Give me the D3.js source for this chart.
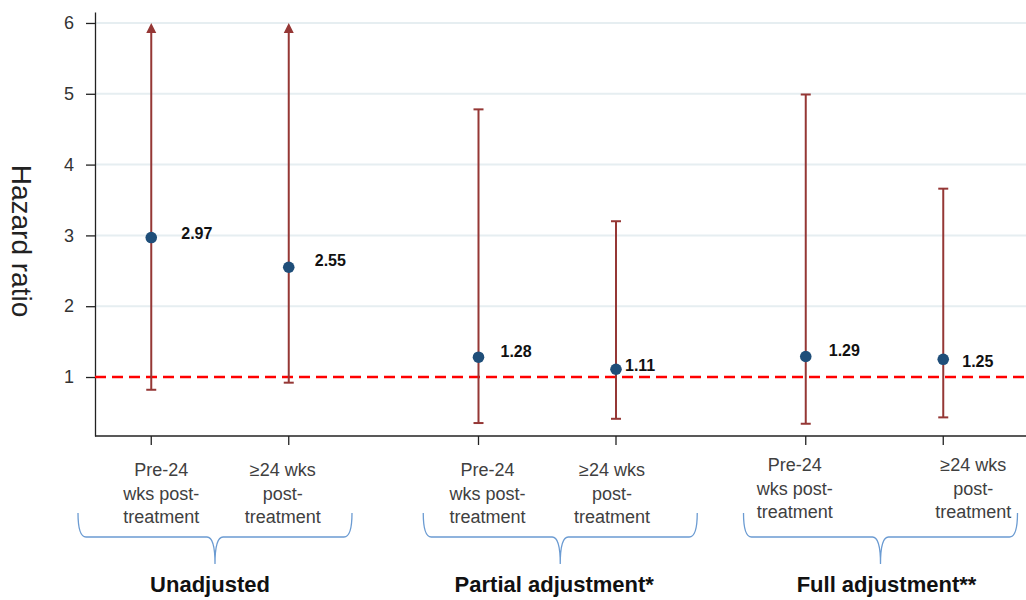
<!DOCTYPE html>
<html>
<head>
<meta charset="utf-8">
<script src="https://d3js.org/d3.v7.min.js"></script>
<style>
  body { margin: 0; background: #fff; }
  svg { font-family: "Liberation Sans", Arial, sans-serif; }
</style>
</head>
<body>
<script>
// data
var groups = ["Unadjusted", "Partial adjustment*", "Full adjustment**"];
var periods = ["pre", "post"];
var periodLabels = [["Pre-24", "wks post-", "treatment"], ["\u226524 wks", "post-", "treatment"]];
var hazardRatio = [2.97, 2.55, 1.28, 1.11, 1.29, 1.25];
var ciLow = [0.82, 0.92, 0.35, 0.41, 0.34, 0.43];
var ciHigh = [6, 6, 4.78, 3.2, 4.99, 3.66];
var ciCut = [true, true, false, false, false, false]; // upper limit runs off the chart
var yTicks = [1, 2, 3, 4, 5, 6];
var refLine = 1;

// small layout nudges so the text sits where it does in the original
var valueDx = [30, 26, 22, 9, 23, 19];
var valueDy = [-4, -7, -6, -4, -6, 2];
var labelDx = [10, -6, 9, -4, -11, 30];
var labelDy = [0, 0, 0, 0, -5, -5];
var braceDx = [-5, 13, 6];
var titleDx = [-10, 7, 12];

var width = 1026, height = 600;
var plotLeft = 95, plotTop = 12, plotBottom = 436;

var svg = d3.select("body").append("svg")
	.attr("width", width)
	.attr("height", height);

var y = d3.scaleLinear().domain([0.167, 6.155]).range([plotBottom, plotTop]);
var gx = d3.scalePoint().domain(groups).range([220, 874.5]);
var px = d3.scalePoint().domain(periods).range([-68.75, 68.75]);

// one row per estimate
var rows = [];
groups.forEach(function(g, gi) {
	periods.forEach(function(p, pi) {
		var i = gi * 2 + pi;
		rows.push({ i: i, group: g, period: pi, x: gx(g) + px(p),
			hr: hazardRatio[i], lo: ciLow[i], hi: ciHigh[i], cut: ciCut[i] });
	});
});

// gridlines
svg.append("g").selectAll("line")
	.data(yTicks.filter(function(d) { return d !== refLine; }))
	.enter().append("line")
	.attr("x1", plotLeft).attr("x2", width)
	.attr("y1", function(d) { return y(d); })
	.attr("y2", function(d) { return y(d); })
	.attr("stroke", "#e6eef1")
	.attr("stroke-width", 2);

// y axis
var yAxis = svg.append("g")
	.attr("transform", "translate(" + plotLeft + ",0)")
	.call(d3.axisLeft(y).tickValues(yTicks).tickFormat(d3.format("d"))
		.tickSize(9).tickSizeOuter(0).tickPadding(12));
yAxis.select(".domain").attr("stroke", "#222").attr("stroke-width", 1.3);
yAxis.selectAll(".tick line").attr("stroke", "#222").attr("stroke-width", 1.3);
yAxis.selectAll(".tick text").attr("font-size", 18).attr("fill", "#333")
	.attr("font-family", "Liberation Sans, Arial, sans-serif");

svg.append("text")
	.attr("transform", "translate(12," + 241 + ") rotate(90)")
	.attr("text-anchor", "middle")
	.attr("font-size", 28)
	.attr("fill", "#222")
	.text("Hazard ratio");

// x axis line and ticks
svg.append("line")
	.attr("x1", plotLeft).attr("x2", width)
	.attr("y1", plotBottom).attr("y2", plotBottom)
	.attr("stroke", "#222").attr("stroke-width", 1.3);
svg.append("g").selectAll("line")
	.data(rows).enter().append("line")
	.attr("x1", function(d) { return d.x; })
	.attr("x2", function(d) { return d.x; })
	.attr("y1", plotBottom).attr("y2", plotBottom + 9)
	.attr("stroke", "#222").attr("stroke-width", 1.3);

// reference line at HR = 1
svg.append("line")
	.attr("x1", plotLeft).attr("x2", width)
	.attr("y1", y(refLine)).attr("y2", y(refLine))
	.attr("stroke", "#ff0000")
	.attr("stroke-width", 2.6)
	.attr("stroke-dasharray", "11,6");

// confidence intervals
var ci = svg.append("g").attr("stroke", "#953735").attr("fill", "#953735");
ci.selectAll(".whisker")
	.data(rows).enter().append("line")
	.attr("class", "whisker")
	.attr("x1", function(d) { return d.x; })
	.attr("x2", function(d) { return d.x; })
	.attr("y1", function(d) { return y(d.lo); })
	.attr("y2", function(d) { return d.cut ? y(d.hi) + 6 : y(d.hi); })
	.attr("stroke-width", 2);
ci.selectAll(".cap-lo")
	.data(rows).enter().append("line")
	.attr("class", "cap-lo")
	.attr("x1", function(d) { return d.x - 5; })
	.attr("x2", function(d) { return d.x + 5; })
	.attr("y1", function(d) { return y(d.lo); })
	.attr("y2", function(d) { return y(d.lo); })
	.attr("stroke-width", 2);
ci.selectAll(".cap-hi")
	.data(rows.filter(function(d) { return !d.cut; })).enter().append("line")
	.attr("class", "cap-hi")
	.attr("x1", function(d) { return d.x - 5; })
	.attr("x2", function(d) { return d.x + 5; })
	.attr("y1", function(d) { return y(d.hi); })
	.attr("y2", function(d) { return y(d.hi); })
	.attr("stroke-width", 2);
ci.selectAll(".arrow")
	.data(rows.filter(function(d) { return d.cut; })).enter().append("path")
	.attr("class", "arrow")
	.attr("stroke", "none")
	.attr("d", function(d) {
		var ty = y(d.hi);
		return "M" + d.x + "," + ty + "L" + (d.x + 5) + "," + (ty + 10) + "L" + (d.x - 5) + "," + (ty + 10) + "Z";
	});

// point estimates
svg.append("g").selectAll("circle")
	.data(rows).enter().append("circle")
	.attr("cx", function(d) { return d.x; })
	.attr("cy", function(d) { return y(d.hr); })
	.attr("r", 5.8)
	.attr("fill", "#1f4e79");

svg.append("g").selectAll("text")
	.data(rows).enter().append("text")
	.attr("x", function(d) { return d.x + valueDx[d.i]; })
	.attr("y", function(d) { return y(d.hr) + valueDy[d.i] + 5.7; })
	.attr("font-size", 16)
	.attr("font-weight", "bold")
	.attr("fill", "#111")
	.text(function(d) { return d.hr.toFixed(2); });

// category labels
var lab = svg.append("g").selectAll("text")
	.data(rows).enter().append("text")
	.attr("text-anchor", "middle")
	.attr("font-size", 18)
	.attr("fill", "#404040")
	.attr("transform", function(d) {
		return "translate(" + (d.x + labelDx[d.i]) + "," + (476 + labelDy[d.i]) + ")";
	});
lab.selectAll("tspan")
	.data(function(d) { return periodLabels[d.period]; })
	.enter().append("tspan")
	.attr("x", 0)
	.attr("dy", function(d, i) { return i === 0 ? 0 : 23.5; })
	.text(function(d) { return d; });

// braces under each group
var braceHalf = 137, braceTop = 513, braceMid = 537, braceTip = 564;
svg.append("g").selectAll("path")
	.data(groups).enter().append("path")
	.attr("fill", "none")
	.attr("stroke", "#6b9bd2")
	.attr("stroke-width", 1.3)
	.attr("d", function(g, gi) {
		var c = gx(g) + braceDx[gi];
		var l = c - braceHalf, r = c + braceHalf;
		return "M" + l + "," + braceTop +
			"Q" + l + "," + braceMid + " " + (l + 8) + "," + braceMid +
			"L" + (c - 8) + "," + braceMid +
			"Q" + c + "," + braceMid + " " + c + "," + braceTip +
			"Q" + c + "," + braceMid + " " + (c + 8) + "," + braceMid +
			"L" + (r - 8) + "," + braceMid +
			"Q" + r + "," + braceMid + " " + r + "," + braceTop;
	});

svg.append("g").selectAll("text")
	.data(groups).enter().append("text")
	.attr("x", function(g, gi) { return gx(g) + titleDx[gi]; })
	.attr("y", 592)
	.attr("text-anchor", "middle")
	.attr("font-size", 22)
	.attr("font-weight", "bold")
	.attr("fill", "#111")
	.text(function(g) { return g; });
</script>
</body>
</html>
